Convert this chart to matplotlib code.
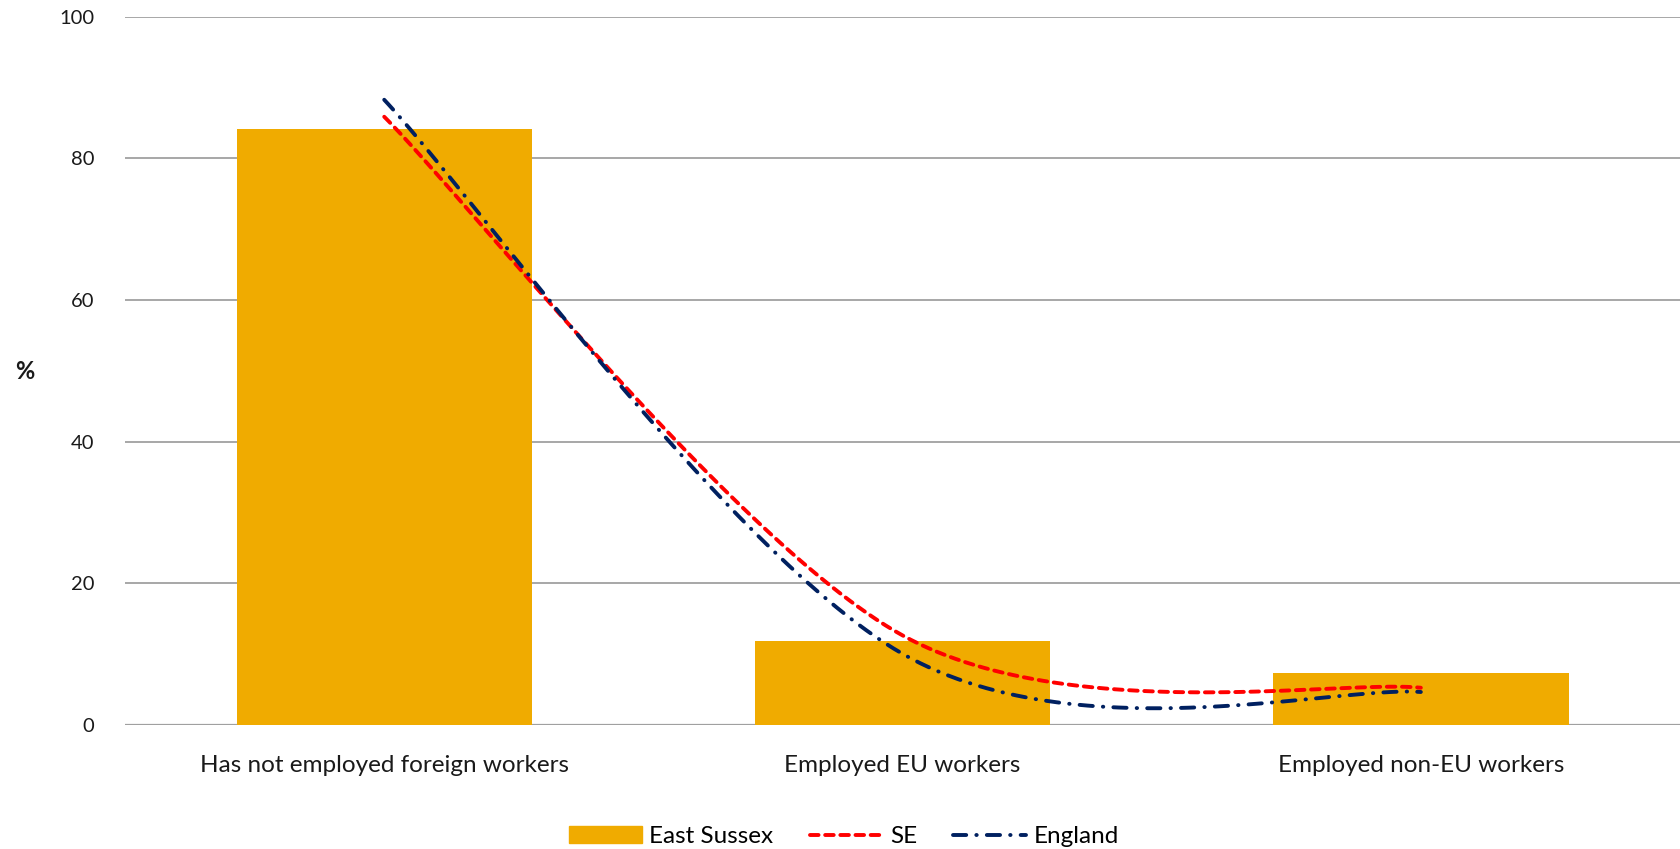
import numpy as np
import matplotlib.pyplot as plt
from matplotlib.lines import Line2D
from matplotlib.patches import Patch

plt.rcParams['font.family'] = ['Lato', 'DejaVu Sans']

#%%==============================================================================
# Data (% of businesses)

categories = ["Has not employed foreign workers", "Employed EU workers", "Employed non-EU workers"]
east_sussex = [84.1, 11.8, 7.3]
se = [85.9, 12.6, 5.2]
england = [88.3, 10.0, 4.6]

yticks = [0, 20, 40, 60, 80, 100]


#%%==============================================================================
# Excel style smoothed line (Catmull-Rom as cubic bezier)

def smooth(xs, ys, f=1.0 / 6, n=60):
    p = np.column_stack([xs, ys]).astype(float)
    out = []
    for i in range(len(p) - 1):
        p0 = p[i - 1] if i > 0 else p[i]
        p1 = p[i]
        p2 = p[i + 1]
        p3 = p[i + 2] if i + 2 < len(p) else p[i + 1]
        c1 = p1 + (p2 - p0) * f
        c2 = p2 - (p3 - p1) * f
        t = np.linspace(0, 1, n)[:, None]
        seg = ((1 - t) ** 3) * p1 + 3 * ((1 - t) ** 2) * t * c1 + 3 * (1 - t) * t ** 2 * c2 + t ** 3 * p2
        out.append(seg if i == 0 else seg[1:])
    out = np.vstack(out)
    return out[:, 0], out[:, 1]


#%%==============================================================================
# Plot

fig = plt.figure(figsize=(16.81, 8.49), dpi=100)
ax = fig.add_axes([0.0744, 0.1466, 0.9250, 0.8334])

x = np.arange(len(categories))
bar_col = '#F0AB00'
se_col = '#FF0000'
eng_col = '#002060'
lw = 2.8
se_ls = (0, (2.2, 1.7))
eng_ls = (0, (3.4, 2.6, 0.1, 2.6))

ax.bar(x, east_sussex, width=0.57, color=bar_col, zorder=2)

sx, sy = smooth(x, se, f=0.158)
ax.plot(sx, sy, color=se_col, lw=lw, linestyle=se_ls, dash_capstyle='round', zorder=3)
ex, ey = smooth(x, england)
ax.plot(ex, ey, color=eng_col, lw=lw, linestyle=eng_ls, dash_capstyle='round', zorder=3)

ax.set_xlim(-0.5, 2.5)
ax.set_ylim(0, 100)
ax.set_yticks(yticks)
ax.set_xticks(x)
ax.set_xticklabels(categories, fontsize=17.5, color='#1a1a1a')
ax.tick_params(axis='y', labelsize=14.5, colors='#1a1a1a', length=0, pad=22)
ax.tick_params(axis='x', length=0, pad=22)
for s in ax.spines.values():
    s.set_visible(False)
ax.yaxis.grid(True, color='#a0a0a0', lw=1.3, zorder=0)
ax.set_axisbelow(True)
ax.axhline(0, color='#a0a0a0', lw=1.6, zorder=1)

fig.text(0.0149, 0.562, '%', fontsize=17, fontweight='bold', ha='center', va='center', color='#1a1a1a')

handles = [Patch(color=bar_col),
           Line2D([], [], color=se_col, lw=lw, linestyle=se_ls, dash_capstyle='round'),
           Line2D([], [], color=eng_col, lw=lw, linestyle=eng_ls, dash_capstyle='round')]
fig.legend(handles, ['East Sussex', 'SE', 'England'], loc='center', bbox_to_anchor=(0.502, 0.0145),
           ncol=3, frameon=False, fontsize=17.5, handlelength=3.0, handleheight=0.7,
           handletextpad=0.3, columnspacing=1.5)

fig.savefig('out.png', dpi=100)
